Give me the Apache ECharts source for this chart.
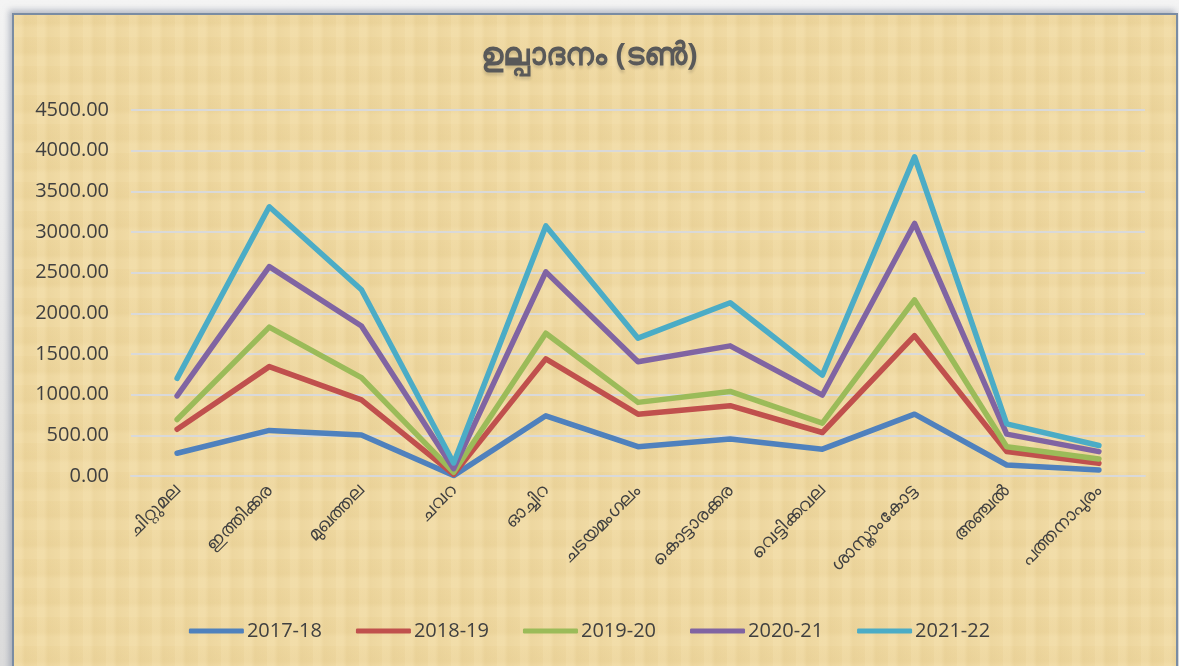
<!DOCTYPE html>
<html>
<head>
<meta charset="utf-8">
<script src="https://cdn.jsdelivr.net/npm/echarts@6/dist/echarts.min.js"></script>
<style>
    html, body { margin: 0; padding: 0; }
    body { width: 1179px; height: 666px; background: linear-gradient(#f4f4f4, #dcdcdc); position: relative; overflow: hidden; }
    #frame {
        position: absolute; left: 12px; top: 13px; width: 1162px; height: 660px;
        border: 2px solid #7a8ca3;
        box-shadow: -3px -3px 6px rgba(120,130,150,0.5);
        background-color: #eed79f;
        background-image:
            repeating-linear-gradient(90deg, rgba(255,240,200,0.15) 0px, rgba(255,240,200,0.15) 7px, rgba(200,170,100,0.07) 11px, rgba(255,240,200,0) 23px),
            repeating-linear-gradient(0deg, rgba(255,240,200,0.12) 0px, rgba(255,240,200,0.12) 9px, rgba(200,170,100,0.06) 14px, rgba(255,240,200,0) 29px);
    }
    #main { position: absolute; left: 0; top: 0; width: 1179px; height: 666px; }
</style>
</head>
<body>
<div id="frame"></div>
<div id="main"></div>
<script>
// ഉല്പാദനം (ടൺ) - പഞ്ചായത്ത് തിരിച്ച്
var categories = ['ചിറ്റുമല', 'ഇത്തിക്കര', 'മുഖത്തല', 'ചവറ', 'ഓച്ചിറ', 'ചടയമംഗലം', 'കൊട്ടാരക്കര', 'വെട്ടിക്കവല', 'ശാസ്താംകോട്ട', 'അഞ്ചൽ', 'പത്തനാപുരം'];
var years = ['2017-18', '2018-19', '2019-20', '2020-21', '2021-22'];

var v2017 = [280, 560, 505, 5, 740, 360, 455, 330, 760, 135, 75];
var v2018 = [575, 1345, 935, 20, 1440, 760, 865, 535, 1725, 300, 155];
var v2019 = [695, 1830, 1210, 45, 1755, 905, 1040, 650, 2165, 360, 210];
var v2020 = [985, 2575, 1845, 90, 2510, 1405, 1600, 995, 3105, 515, 300];
var v2021 = [1200, 3310, 2290, 160, 3075, 1695, 2130, 1240, 3925, 640, 375];

var yTicks = [0, 500, 1000, 1500, 2000, 2500, 3000, 3500, 4000, 4500];

var colors = ['#4f81bd', '#c0504d', '#9bbb59', '#8064a2', '#4bacc6'];
var values = [v2017, v2018, v2019, v2020, v2021];

var chart = echarts.init(document.getElementById('main'));

var series = [];
for (var i = 0; i < years.length; i++) {
    series.push({
        name: years[i],
        type: 'line',
        data: values[i],
        showSymbol: false,
        symbol: 'none',
        lineStyle: { width: 5.5, color: colors[i], cap: 'round', join: 'round' },
        itemStyle: { color: colors[i] }
    });
}

var option = {
    animation: false,
    backgroundColor: 'transparent',
    color: colors,
    title: {
        text: 'ഉല്പാദനം (ടൺ)',
        left: 'center',
        top: 36,
        textStyle: {
            color: '#595959',
            fontSize: 31,
            fontWeight: 'bold',
            fontFamily: 'Noto Sans, DejaVu Sans, sans-serif',
            textShadowColor: 'rgba(0,0,0,0.15)',
            textShadowBlur: 3,
            textShadowOffsetY: 3
        }
    },
    grid: { left: 131, right: 34, top: 110, bottom: 190 },
    xAxis: {
        type: 'category',
        data: categories,
        boundaryGap: true,
        axisLine: { show: true, lineStyle: { color: '#d9d9d9', width: 2 } },
        axisTick: { show: false },
        axisLabel: {
            rotate: 45,
            interval: 0,
            margin: 12,
            color: '#404040',
            fontSize: 18,
            fontFamily: 'Noto Sans, DejaVu Sans, sans-serif'
        }
    },
    yAxis: {
        type: 'value',
        min: yTicks[0],
        max: yTicks[yTicks.length - 1],
        interval: 500,
        axisLine: { show: false },
        axisTick: { show: false },
        splitLine: { lineStyle: { color: '#d9d9d9', width: 2 } },
        axisLabel: {
            margin: 22,
            color: '#404040',
            fontSize: 20,
            fontFamily: 'Open Sans, Noto Sans, sans-serif',
            formatter: function (v) { return v.toFixed(2); }
        }
    },
    legend: {
        data: years,
        bottom: 20,
        left: 'center',
        icon: 'roundRect',
        itemWidth: 55,
        itemHeight: 5,
        itemGap: 34,
        textStyle: {
            color: '#404040',
            fontSize: 20,
            fontFamily: 'Open Sans, Noto Sans, sans-serif',
            padding: [0, 0, 0, -2]
        }
    },
    series: series
};

chart.setOption(option);
</script>
</body>
</html>
